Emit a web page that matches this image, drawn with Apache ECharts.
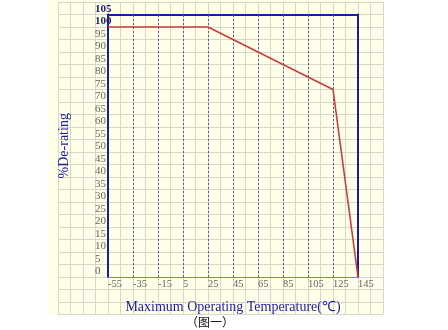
<!DOCTYPE html>
<html>
<head>
<meta charset="utf-8">
<script src="https://cdn.jsdelivr.net/npm/echarts@6/dist/echarts.min.js"></script>
<style>
  html, body { margin: 0; padding: 0; background: #ffffff; }
  #chart { width: 448px; height: 330px; }
</style>
</head>
<body>
<div id="chart"></div>
<script>
// Derating curve: temperature (°C) vs. allowed load (%)
const temperatures = [-55, 25, 125, 145];
const derating = [100, 100, 75, 0];

// Axis ticks
const xTickLabels = [-55, -35, -15, 5, 25, 45, 65, 85, 105, 125, 145];
const xDashedLines = [-35, -15, 5, 25, 45, 65, 85, 105, 125];

const NAVY = '#1c1ca0';
const SERIF = '"Liberation Serif", "Times New Roman", serif';

const chart = echarts.init(document.getElementById('chart'), null, { renderer: 'canvas' });

chart.setOption({
  animation: false,
  backgroundColor: '#ffffff',
  graphic: [{
    type: 'rect',
    z: -10,
    shape: { x: 47.5, y: 0, width: 336, height: 314.5 },
    style: { fill: '#fefee9' },
    silent: true
  }],
  title: {
    text: '（图一）',
    left: 186,
    top: 316,
    textStyle: { fontFamily: '"Noto Sans CJK SC", sans-serif', fontSize: 12, fontWeight: 'normal', color: '#111' },
    padding: 0
  },
  grid: [
    { left: 108, right: 90, top: 14.5, bottom: 53 },
    // spreadsheet-style cell grid behind the plot
    { left: 58, right: 65, top: 2, bottom: 15.5, z: 0 }
  ],
  xAxis: [
    {
      gridIndex: 0, type: 'value', min: -55, max: 145,
      axisLine: { show: true, onZero: false, lineStyle: { color: '#7f7fc8', width: 1 } },
      axisTick: { show: false },
      splitLine: { show: false },
      axisLabel: {
        customValues: xTickLabels,
        align: 'left', margin: 2,
        fontFamily: SERIF, fontSize: 10.5, color: '#666'
      },
      name: 'Maximum Operating Temperature(℃)',
      nameLocation: 'middle', nameGap: 23,
      nameTextStyle: { fontFamily: SERIF, fontSize: 14, color: NAVY }
    },
    {
      gridIndex: 0, type: 'value', min: -55, max: 145, position: 'top',
      axisLine: { show: true, onZero: false, lineStyle: { color: NAVY, width: 2 } },
      axisTick: { show: false }, axisLabel: { show: false }, splitLine: { show: false }
    },
    {
      gridIndex: 1, type: 'value', min: 0, max: 26, interval: 1,
      axisLine: { show: false }, axisTick: { show: false }, axisLabel: { show: false },
      splitLine: { show: true, lineStyle: { color: '#d6d6cb', width: 1 } }
    }
  ],
  yAxis: [
    {
      gridIndex: 0, type: 'value', min: 0, max: 105, interval: 5,
      axisLine: { show: true, onZero: false, lineStyle: { color: NAVY, width: 2 } },
      axisTick: { show: false },
      splitLine: { show: false },
      axisLabel: {
        align: 'left', margin: 13, verticalAlign: 'bottom',
        fontFamily: SERIF, fontSize: 11, color: '#666',
        formatter: function (v) { return v >= 100 ? '{b|' + v + '}' : String(v); },
        rich: { b: { fontFamily: SERIF, fontSize: 11, fontWeight: 'bold', color: '#22226e' } }
      },
      name: '%De-rating',
      nameLocation: 'middle', nameGap: 37,
      nameTextStyle: { fontFamily: SERIF, fontSize: 14, color: NAVY }
    },
    {
      gridIndex: 0, type: 'value', min: 0, max: 105, position: 'right',
      axisLine: { show: true, onZero: false, lineStyle: { color: NAVY, width: 2 } },
      axisTick: { show: false }, axisLabel: { show: false }, splitLine: { show: false }
    },
    {
      gridIndex: 1, type: 'value', min: 0, max: 25, interval: 1,
      axisLine: { show: false }, axisTick: { show: false }, axisLabel: { show: false },
      splitLine: { show: true, lineStyle: { color: '#d6d6cb', width: 1 } }
    }
  ],
  series: [
    {
      type: 'line',
      xAxisIndex: 0, yAxisIndex: 0,
      data: temperatures.map((t, i) => [t, derating[i]]),
      showSymbol: false,
      lineStyle: { color: '#c83c3c', width: 1.6 },
      z: 5,
      markLine: {
        silent: true,
        symbol: 'none',
        label: { show: false },
        lineStyle: { color: '#5a5a9e', type: [2, 2], width: 1 },
        data: xDashedLines.map(x => ({ xAxis: x }))
      }
    }
  ]
});
</script>
</body>
</html>
